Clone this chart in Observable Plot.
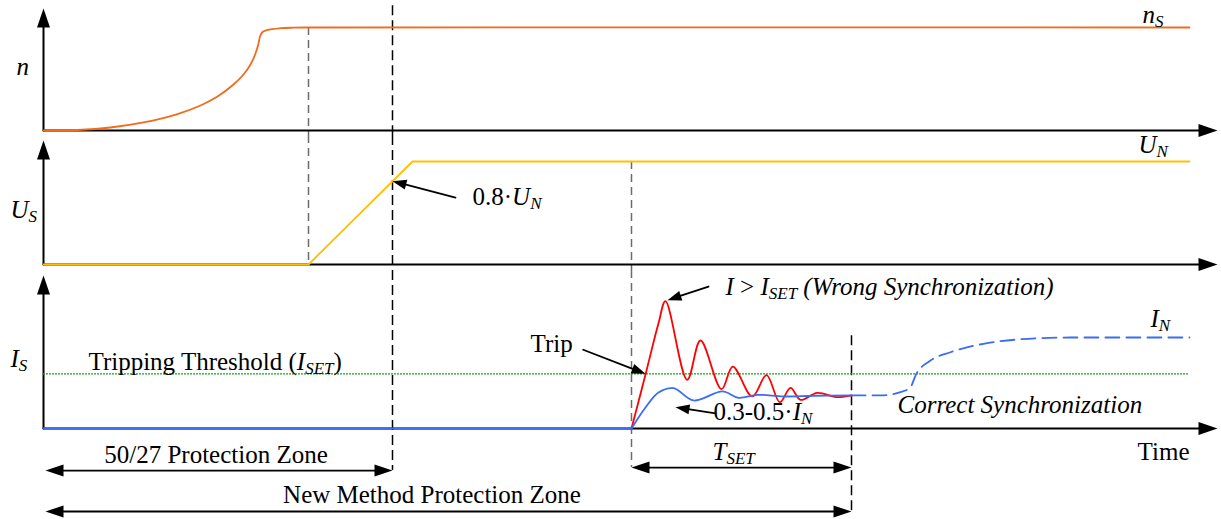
<!DOCTYPE html>
<html>
<head>
<meta charset="utf-8">
<script src="https://cdn.jsdelivr.net/npm/d3@7"></script>
<script src="https://cdn.jsdelivr.net/npm/@observablehq/plot@0.6"></script>
<style>
  html, body { margin: 0; padding: 0; background: #fff; }
  #chart { width: 1221px; height: 519px; overflow: hidden; }
  #chart svg { display: block; overflow: visible; }
  #chart svg text { font-family: "Liberation Serif", "DejaVu Serif", serif !important; }
</style>
</head>
<body>
<div id="chart"></div>
<script>
// ================= DATA (time in arbitrary units, values relative to rated) =================
// Speed n(t)
const nTime  = [0, 34, 67, 100, 134, 157, 174, 190, 200, 207, 212, 215, 216.5, 219, 224, 237, 250, 264, 1146];
const nValue = [0, 0.005, 0.029, 0.078, 0.160, 0.243, 0.330, 0.447, 0.544, 0.641, 0.748, 0.845, 0.913, 0.956, 0.977, 0.993, 0.998, 1, 1];
// Stator voltage U_S(t)
const uTime  = [0, 265, 369, 1146];
const uValue = [0, 0, 1, 1];
// Stator current before trip
const iPreTime  = [0, 588];
const iPreValue = [0, 0];
// Current, wrong synchronization (red)
const redTime  = [588, 602, 615, 622, 643.7, 657, 678, 689.3, 708.7, 723, 736.3, 747, 757, 773.7, 793.7, 808];
const redValue = [0, 0.593, 1.157, 1.399, 0.535, 0.967, 0.432, 0.681, 0.352, 0.586, 0.289, 0.447, 0.315, 0.392, 0.344, 0.363];
// Current, correct synchronization (blue solid)
const blueTime  = [588, 602, 615, 630, 650, 679, 695, 714, 740, 770, 808];
const blueValue = [0, 0.231, 0.396, 0.443, 0.308, 0.407, 0.337, 0.370, 0.352, 0.360, 0.363];
// Current continuation (blue dashed)
const blueDashTime  = [808, 837, 857, 867, 872, 887, 907, 940, 974, 1027, 1146];
const blueDashValue = [0.363, 0.363, 0.399, 0.454, 0.582, 0.747, 0.838, 0.931, 0.978, 1, 1];
// Tripping threshold I_SET
const iSet = 0.6;
// Event times
const tRamp = 265, tPickup = 349, tTrip = 588, tEnd = 808, tMax = 1146, tAxis = 1174;

// Labels
const nLabelText   = ["*n*", "*n_{S}*"];
const nLabelTime   = [-27, 1099];
const nLabelValue  = [0.534, 1.039];
const nLabelAnchor = ["start", "start"];

const uLabelText   = ["*U_{S}*", "*U_{N}*", "0.8·*U_{N}*"];
const uLabelTime   = [-33, 1095, 429];
const uLabelValue  = [0.456, 1.087, 0.573];
const uLabelAnchor = ["start", "start", "start"];

const iLabelText   = ["*I_{S}*", "Tripping Threshold (*I_{SET}*)", "Trip", "*I* > *I_{SET} (Wrong Synchronization)*",
                      "*I_{N}*", "0.3-0.5·*I_{N}*", "*Correct Synchronization*", "Time", "*T_{SET}*",
                      "50/27 Protection Zone", "New Method Protection Zone"];
const iLabelTime   = [-33, 45, 487, 682, 1107, 670, 854, 1146, 669, 172.5, 388.5];
const iLabelValue  = [0.681, 0.648, 0.838, 1.462, 1.113, 0.088, 0.165, -0.341, -0.341, -0.374, -0.824];
const iLabelAnchor = ["start", "start", "start", "start", "start", "start", "start", "end", "start", "middle", "middle"];

// Pointer arrows (from -> to)
const uPointerFrom = [[412, 0.65]];
const uPointerTo   = [[349, 0.809]];
const iPointerFrom = [[539.7, 0.865], [665, 1.56], [672, 0.165]];
const iPointerTo   = [[602, 0.601], [624, 1.41], [632, 0.234]];
// Dimension (double) arrows: start time, end time, level
const dimStart = [2, 588, 2];
const dimEnd   = [349, 808, 808];
const dimLevel = [-0.462, -0.429, -0.912];

// ================= LAYOUT =================
const X = {domain: [0, tAxis], range: [43, 1217]};
const panelN = {height: 135, yRange: [130, 27]};
const panelU = {height: 135, yRange: [129, 26]};
const panelI = {height: 249, yRange: [158, 67]};
const FONT = "Liberation Serif";
const FONT_SIZE = 25, SUB_SIZE = 17, SUB_SHIFT = 4;

// value at the top / bottom edge of a panel (so guide lines stop exactly at the edges)
const edgeTop = p => d3.scaleLinear([0, 1], p.yRange).invert(0);
const edgeBottom = p => d3.scaleLinear([0, 1], p.yRange).invert(p.height);

const zip = (ts, vs) => ts.map((t, i) => ({t, v: vs[i]}));

function headSymbol(len, half) {
  return {draw(ctx) { ctx.moveTo(0, 0); ctx.lineTo(half, len); ctx.lineTo(-half, len); ctx.closePath(); }};
}

function arrowMarks(rows, panel, {len, half, width, double = false}) {
  const xs = d3.scaleLinear(X.domain, X.range);
  const ys = d3.scaleLinear([0, 1], panel.yRange);
  const heads = [];
  for (const r of rows) {
    const dx = xs(r.x2) - xs(r.x1), dy = ys(r.y2) - ys(r.y1);
    const a = Math.atan2(dx, -dy) * 180 / Math.PI;
    heads.push({x: r.x2, y: r.y2, a});
    if (double) heads.push({x: r.x1, y: r.y1, a: a + 180});
  }
  return [
    Plot.arrow(rows, {x1: "x1", y1: "y1", x2: "x2", y2: "y2", headLength: 0, stroke: "black",
      strokeWidth: width, insetEnd: len - 3, insetStart: double ? len - 3 : 0}),
    Plot.dot(heads, {x: "x", y: "y", rotate: "a", symbol: headSymbol(len, half), fill: "black", stroke: "none"})
  ];
}

function axisMarks(panel, yTip) {
  return arrowMarks([{x1: 0, y1: 0, x2: 0, y2: yTip}, {x1: 0, y1: 0, x2: tAxis, y2: 0}], panel,
    {len: 19, half: 6.5, width: 2});
}

function labelMarks(texts, times, values, anchors) {
  const rows = texts.map((s, i) => ({s, t: times[i], v: values[i], a: anchors[i]}));
  return ["start", "middle", "end"].map(a => Plot.text(rows.filter(r => r.a === a), {
    x: "t", y: "v", text: "s", textAnchor: a, lineAnchor: "bottom",
    fontSize: FONT_SIZE, fontFamily: FONT, fill: "black"
  }));
}

function guideMarks(rows) {
  return [
    Plot.ruleX(rows.filter(r => r.k === "gray"), {x: "t", y1: "y1", y2: "y2", stroke: "#6b6b6b", strokeWidth: 1.5, strokeDasharray: "8,5"}),
    Plot.ruleX(rows.filter(r => r.k === "black"), {x: "t", y1: "y1", y2: "y2", stroke: "black", strokeWidth: 1.5, strokeDasharray: "10,5"})
  ];
}

function makePanel(panel, marks) {
  return Plot.plot({
    width: 1221, height: panel.height,
    marginTop: 0, marginRight: 0, marginBottom: 0, marginLeft: 0,
    x: {domain: X.domain, range: X.range, axis: null},
    y: {domain: [0, 1], range: panel.yRange, axis: null},
    style: {background: "transparent", overflow: "visible"},
    marks
  });
}

// ---- Panel 1: speed ----
const p1 = makePanel(panelN, [
  ...guideMarks([{t: tRamp, y1: 1, y2: edgeBottom(panelN), k: "gray"},
                 {t: tPickup, y1: 1.21, y2: edgeBottom(panelN), k: "black"}]),
  ...axisMarks(panelN, 1.184),
  Plot.line(zip(nTime, nValue), {x: "t", y: "v", stroke: "#f26b1d", strokeWidth: 1.8, curve: "catmull-rom"}),
  ...labelMarks(nLabelText, nLabelTime, nLabelValue, nLabelAnchor)
]);

// ---- Panel 2: voltage ----
const p2 = makePanel(panelU, [
  ...guideMarks([{t: tRamp, y1: edgeTop(panelU), y2: 0, k: "gray"},
                 {t: tPickup, y1: edgeTop(panelU), y2: edgeBottom(panelU), k: "black"},
                 {t: tTrip, y1: 1, y2: edgeBottom(panelU), k: "gray"}]),
  ...axisMarks(panelU, 1.204),
  Plot.line(zip(uTime, uValue), {x: "t", y: "v", stroke: "#ffc000", strokeWidth: 1.8}),
  ...arrowMarks(uPointerFrom.map((f, i) => ({x1: f[0], y1: f[1], x2: uPointerTo[i][0], y2: uPointerTo[i][1]})), panelU,
    {len: 14, half: 5, width: 1.8}),
  ...labelMarks(uLabelText, uLabelTime, uLabelValue, uLabelAnchor)
]);

// ---- Panel 3: current ----
const p3 = makePanel(panelI, [
  ...guideMarks([{t: tPickup, y1: edgeTop(panelI), y2: -0.462, k: "black"},
                 {t: tTrip, y1: edgeTop(panelI), y2: -0.429, k: "gray"},
                 {t: tEnd, y1: 1.02, y2: -0.923, k: "black"}]),
  ...axisMarks(panelI, 1.681),
  Plot.ruleY([iSet], {x1: 0, x2: tMax, stroke: "#1e9e1e", strokeWidth: 1.2, strokeDasharray: "2,1"}),
  Plot.line(zip(redTime, redValue), {x: "t", y: "v", stroke: "#ff0000", strokeWidth: 1.8, curve: "catmull-rom"}),
  Plot.line(zip(iPreTime, iPreValue), {x: "t", y: "v", stroke: "#3a6cf4", strokeWidth: 2}),
  Plot.line(zip(blueTime, blueValue), {x: "t", y: "v", stroke: "#3a6cf4", strokeWidth: 1.8, curve: "catmull-rom"}),
  Plot.line(zip(blueDashTime, blueDashValue), {x: "t", y: "v", stroke: "#3a6cf4", strokeWidth: 1.8, curve: "monotone-x", strokeDasharray: "14,7"}),
  ...arrowMarks(iPointerFrom.map((f, i) => ({x1: f[0], y1: f[1], x2: iPointerTo[i][0], y2: iPointerTo[i][1]})), panelI,
    {len: 14, half: 5, width: 1.8}),
  ...arrowMarks(dimStart.map((s, i) => ({x1: s, y1: dimLevel[i], x2: dimEnd[i], y2: dimLevel[i]})), panelI,
    {len: 18, half: 6, width: 1.8, double: true}),
  ...labelMarks(iLabelText, iLabelTime, iLabelValue, iLabelAnchor)
]);

const chart = document.getElementById("chart");
chart.append(p1, p2, p3);

// Rich text: *...* italic, _{...} subscript
const NS = "http://www.w3.org/2000/svg";
chart.querySelectorAll("text").forEach(el => {
  const s = el.textContent;
  if (!/[*_]/.test(s)) return;
  const segs = [];
  let italic = false, buf = "", i = 0;
  const flush = sub => { if (buf) segs.push({text: buf, italic, sub}); buf = ""; };
  while (i < s.length) {
    const c = s[i];
    if (c === "*") { flush(false); italic = !italic; i++; }
    else if (c === "_" && s[i + 1] === "{") {
      flush(false);
      const j = s.indexOf("}", i);
      buf = s.slice(i + 2, j); flush(true); i = j + 1;
    } else { buf += c; i++; }
  }
  flush(false);
  while (el.firstChild) el.removeChild(el.firstChild);
  let shifted = false;
  for (const seg of segs) {
    const ts = document.createElementNS(NS, "tspan");
    ts.textContent = seg.text;
    if (seg.italic) ts.setAttribute("font-style", "italic");
    if (seg.sub) {
      ts.setAttribute("font-size", String(SUB_SIZE));
      if (!shifted) ts.setAttribute("dy", String(SUB_SHIFT));
      shifted = true;
    } else if (shifted) {
      ts.setAttribute("dy", String(-SUB_SHIFT));
      shifted = false;
    }
    el.appendChild(ts);
  }
});
</script>
</body>
</html>
